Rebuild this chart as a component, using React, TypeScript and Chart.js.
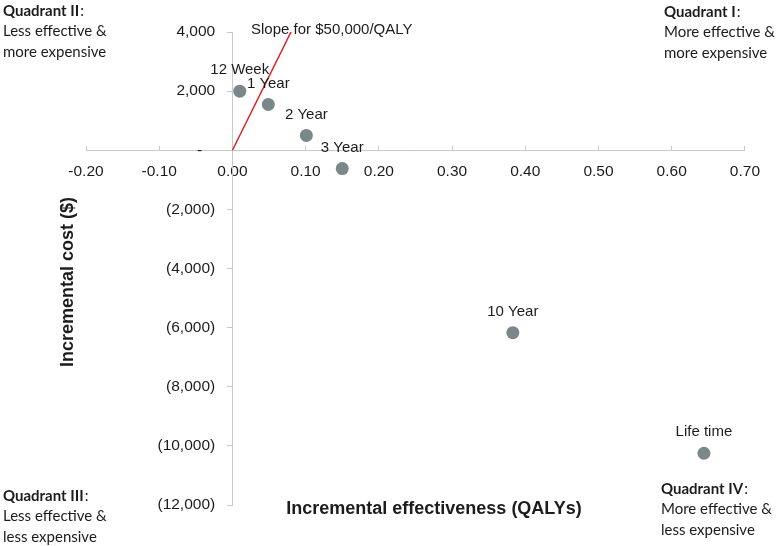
import React, { useEffect, useRef } from 'react';
import { Chart, registerables } from 'chart.js';

Chart.register(...registerables);

// ---- data ----
const pointLabels = ['12 Week', '1 Year', '2 Year', '3 Year', '10 Year', 'Life time'];
const effectValues = [0.010, 0.049, 0.101, 0.150, 0.383, 0.644];
const costValues = [2000, 1550, 500, -620, -6170, -10250];

const thresholdX = [0, 0.08];
const thresholdY = [0, 4000];
const thresholdLabel = 'Slope for $50,000/QALY';

const xTicks = [-0.2, -0.1, 0, 0.1, 0.2, 0.3, 0.4, 0.5, 0.6, 0.7];
const yTicks = [4000, 2000, 0, -2000, -4000, -6000, -8000, -10000, -12000];

const xTitle = 'Incremental effectiveness (QALYs)';
const yTitle = 'Incremental cost ($)';

const quadrantHeads = ['Quadrant II', 'Quadrant I', 'Quadrant III', 'Quadrant IV'];
const quadrantLines = [
  ['Less effective &', 'more expensive'],
  ['More effective &', 'more expensive'],
  ['Less effective &', 'less expensive'],
  ['More effective &', 'less expensive'],
];

// ---- style ----
const AXIS = '#c3cbcb';
const TEXT = '#1c1c1c';
const DOT = '#7a8889';
const RED = '#e02020';
const ARIAL = '"Liberation Sans", Arial, sans-serif';
const CAL = 'Lato, "Open Sans", sans-serif';

const fmtCost = (v: number) => {
  if (v === 0) return '-       ';
  const s = Math.abs(v).toLocaleString('en-US');
  return (v < 0 ? `(${s})` : s) + '    ';
};

export default function App() {
  const ref = useRef<HTMLCanvasElement>(null);

  useEffect(() => {
    const canvas = ref.current!;
    const annot = {
      id: 'annot',
      afterDatasetsDraw(chart: any) {
        const ctx = chart.ctx;
        const xs = chart.scales.x;
        const ys = chart.scales.y;
        ctx.save();
        ctx.fillStyle = TEXT;
        ctx.font = `15px ${ARIAL}`;
        ctx.textAlign = 'center';
        ctx.textBaseline = 'middle';
        pointLabels.forEach((l, i) => {
          ctx.fillText(l, xs.getPixelForValue(effectValues[i]), ys.getPixelForValue(costValues[i]) - 21);
        });
        // slope label
        const ex = xs.getPixelForValue(thresholdX[1]);
        const ey = ys.getPixelForValue(thresholdY[1]);
        ctx.textAlign = 'left';
        ctx.fillText(thresholdLabel, ex - 40, ey - 2);

        // axis titles
        ctx.font = `bold 18px ${ARIAL}`;
        ctx.textAlign = 'center';
        ctx.fillText(xTitle, 434, 509);
        ctx.save();
        ctx.translate(68, 282);
        ctx.rotate(-Math.PI / 2);
        ctx.fillText(yTitle, 0, 0);
        ctx.restore();

        // quadrant labels
        const pos = [
          [3, 11],
          [664, 12],
          [3, 496],
          [661, 489],
        ];
        quadrantHeads.forEach((h, i) => {
          const [x, y] = pos[i];
          ctx.textAlign = 'left';
          ctx.font = `bold 15px ${CAL}`;
          ctx.fillText(h, x, y);
          const w = ctx.measureText(h).width;
          ctx.font = `15px ${CAL}`;
          ctx.fillText(':', x + w + 1, y);
          quadrantLines[i].forEach((t, j) => ctx.fillText(t, x, y + 20.5 * (j + 1)));
        });
        ctx.restore();
      },
    };

    const chart = new Chart(canvas, {
      type: 'scatter',
      data: {
        datasets: [
          {
            label: thresholdLabel,
            data: thresholdX.map((x, i) => ({ x, y: thresholdY[i] })),
            showLine: true,
            borderColor: RED,
            borderWidth: 1.5,
            pointRadius: 0,
            order: 2,
          },
          {
            label: 'Scenarios',
            data: effectValues.map((x, i) => ({ x, y: costValues[i] })),
            backgroundColor: DOT,
            borderWidth: 0,
            pointRadius: 6.5,
            order: 1,
          },
        ],
      },
      options: {
        responsive: false,
        animation: false,
        layout: { padding: { left: 86, right: 21, top: 32, bottom: 41 } },
        plugins: { legend: { display: false }, tooltip: { enabled: false } },
        scales: {
          x: {
            type: 'linear',
            min: -0.2,
            max: 0.7,
            position: { y: 0 } as any,
            afterBuildTicks: (s: any) => {
              s.ticks = xTicks.map((value) => ({ value }));
            },
            ticks: {
              callback: (v: any) => Number(v).toFixed(2),
              font: { family: ARIAL, size: 15.5 },
              color: TEXT,
              padding: 17,
              maxRotation: 0,
              autoSkip: false,
            },
            grid: { drawOnChartArea: false, drawTicks: true, tickLength: -5, color: AXIS },
            border: { color: AXIS, width: 1 },
          },
          y: {
            type: 'linear',
            min: -12000,
            max: 4000,
            position: { x: 0 } as any,
            afterBuildTicks: (s: any) => {
              s.ticks = yTicks.map((value) => ({ value }));
            },
            ticks: {
              callback: (v: any) => fmtCost(Number(v)),
              font: { family: ARIAL, size: 15.5 },
              color: TEXT,
              padding: 14,
              autoSkip: false,
            },
            grid: { drawOnChartArea: false, drawTicks: true, tickLength: 5, color: AXIS },
            border: { color: AXIS, width: 1 },
          },
        },
      },
      plugins: [annot],
    });
    return () => chart.destroy();
  }, []);

  return (
    <div style={{ position: 'absolute', left: 0, top: 0, width: 777, height: 546, background: '#fff' }}>
      <canvas ref={ref} width={777} height={546} style={{ display: 'block' }} />
    </div>
  );
}
